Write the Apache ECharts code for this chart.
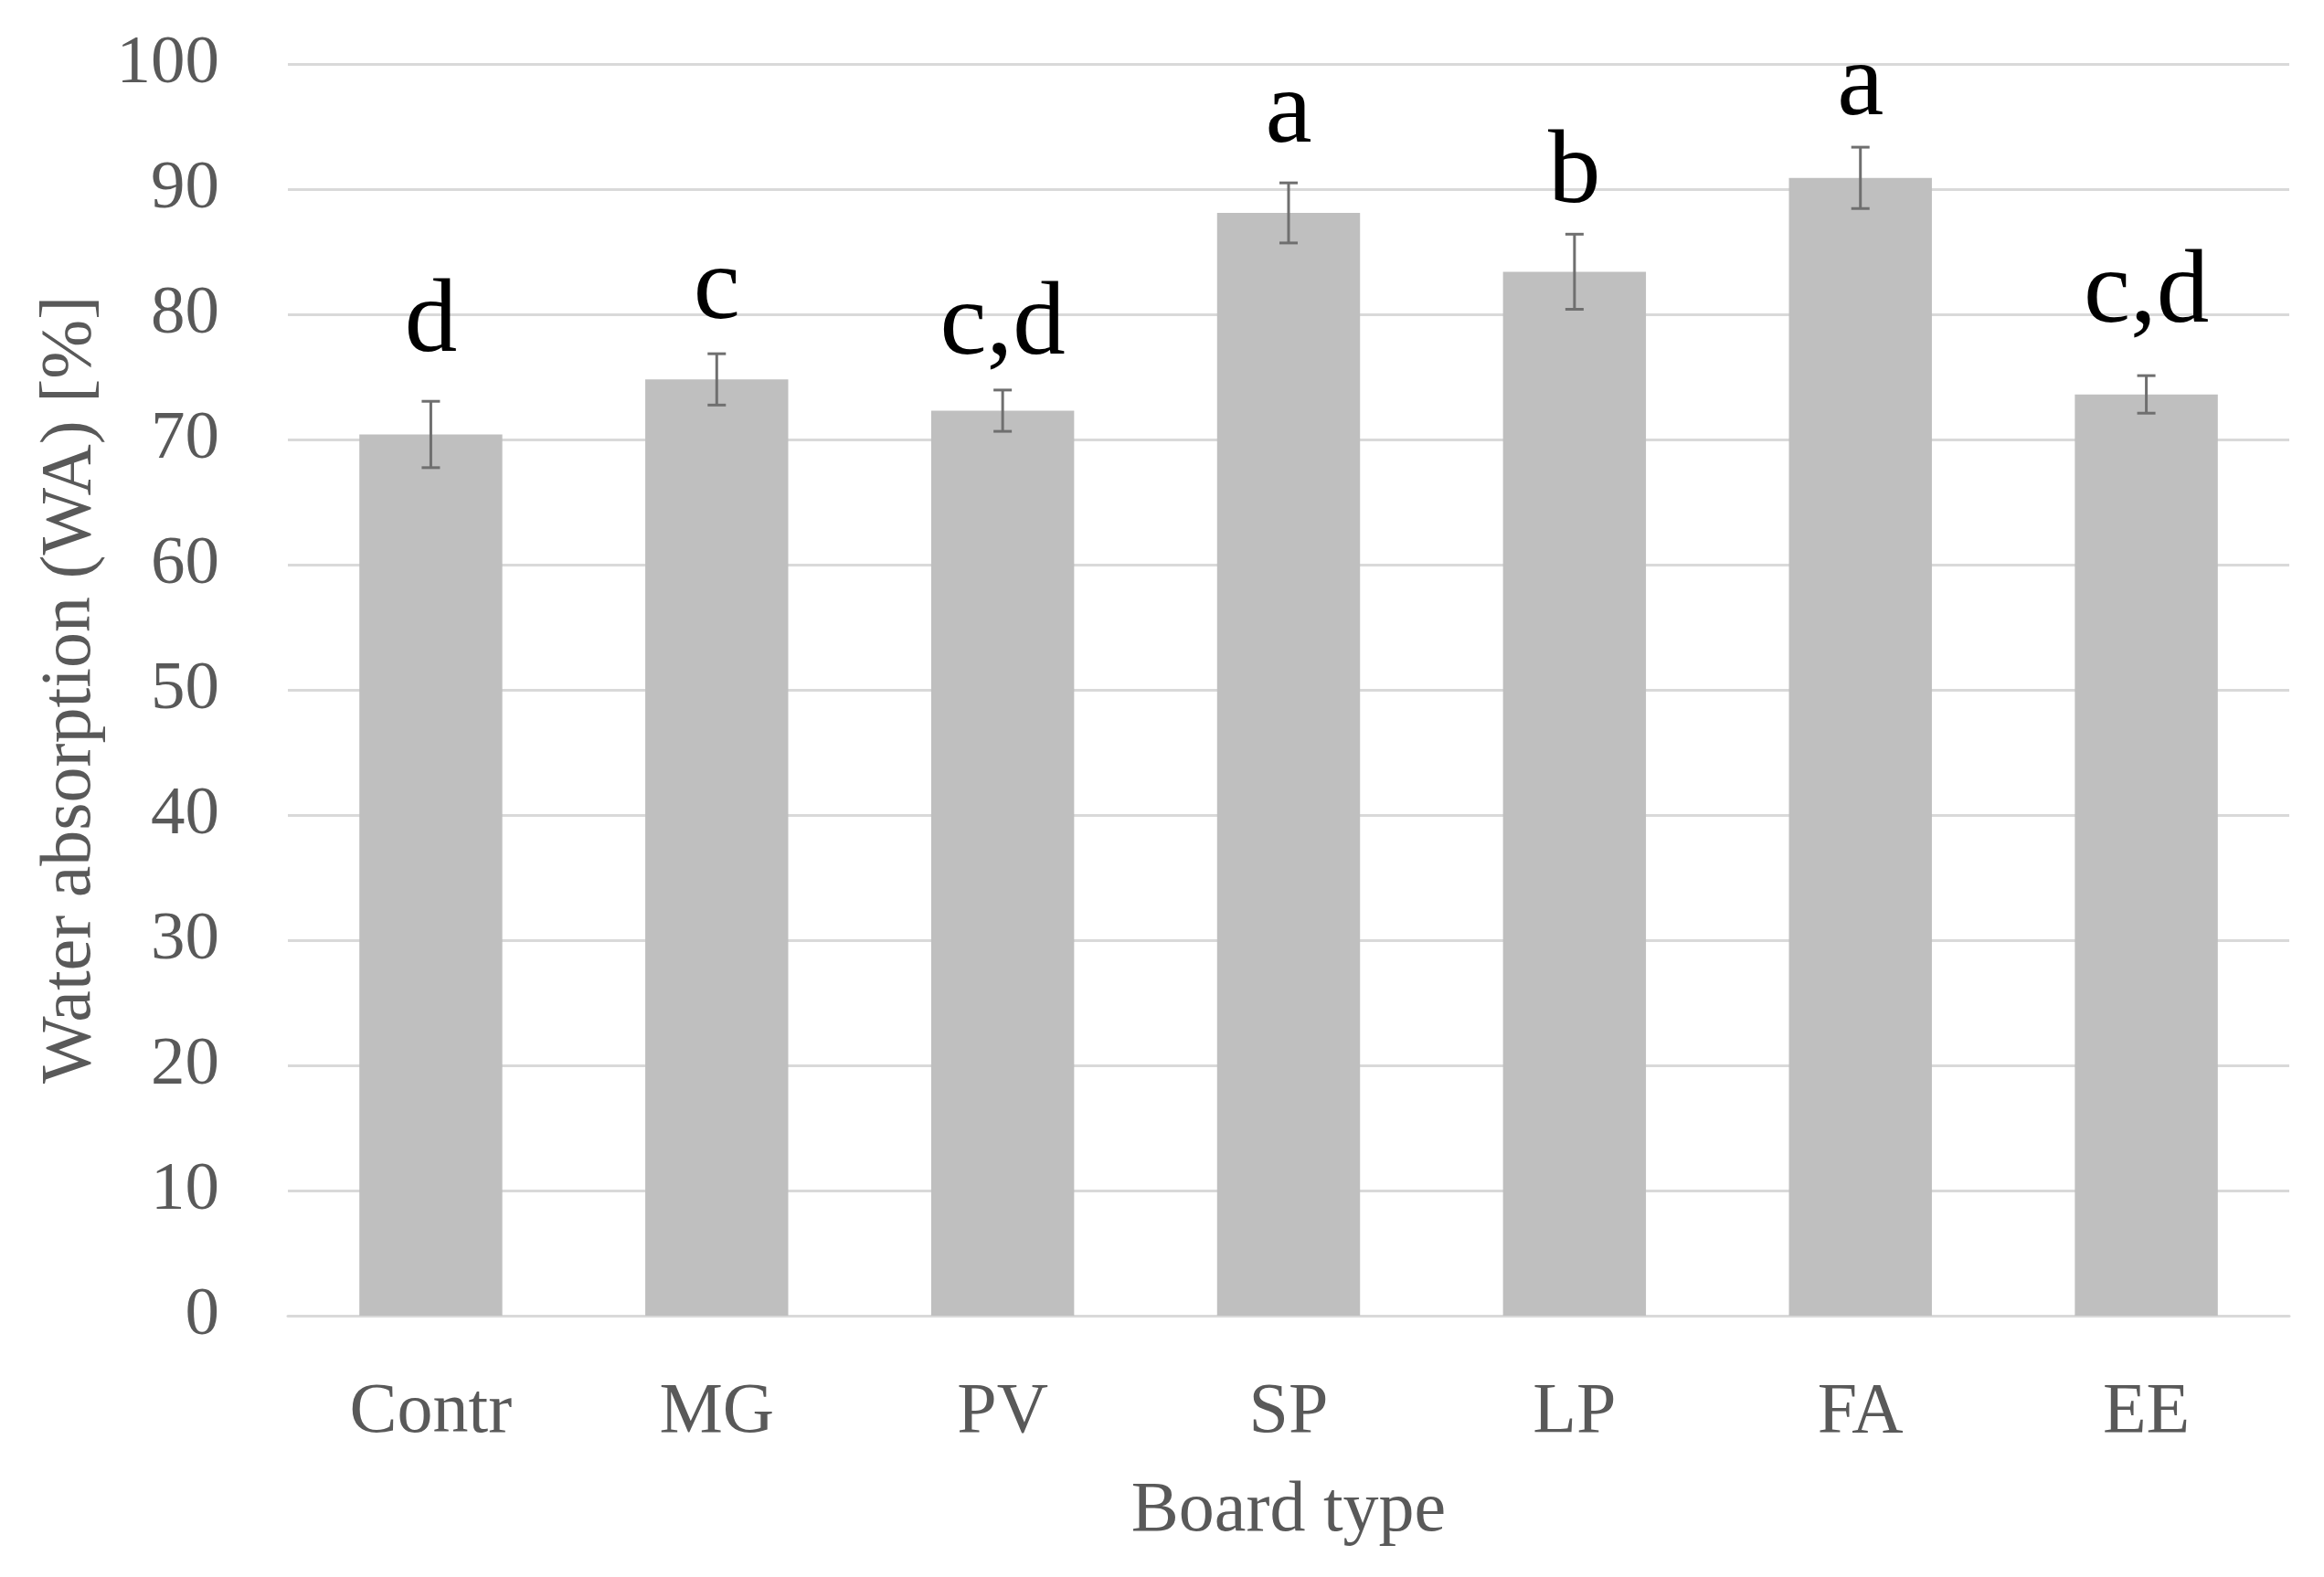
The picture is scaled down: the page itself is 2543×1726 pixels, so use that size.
<!DOCTYPE html>
<html>
<head>
<meta charset="utf-8">
<script src="https://cdn.jsdelivr.net/npm/echarts@6/dist/echarts.min.js"></script>
<style>
html,body{margin:0;padding:0;background:#fff;}
#c{width:2543px;height:1726px;}
</style>
</head>
<body>
<div id="c"></div>
<script>
const categories = ['Contr', 'MG', 'PV', 'SP', 'LP', 'FA', 'EE'];
const means = [70.4, 74.8, 72.3, 88.1, 83.4, 90.9, 73.6];
const sds = [2.65, 2.05, 1.65, 2.4, 3.0, 2.45, 1.5];
const letters = ['d', 'c', 'c,d', 'a', 'b', 'a', 'c,d'];
const letterY = [77.0, 79.6, 76.8, 93.7, 88.9, 95.9, 79.3];
const yTicks = [0, 10, 20, 30, 40, 50, 60, 70, 80, 90, 100];

const FONT = '"Liberation Serif", "DejaVu Serif", serif';
const chart = echarts.init(document.getElementById('c'), null, {renderer: 'canvas'});

const errData = categories.map((c, i) => [i, means[i] - sds[i], means[i] + sds[i]]);
const letterData = categories.map((c, i) => [i, letterY[i], letters[i]]);

chart.setOption({
  animation: false,
  backgroundColor: '#ffffff',
  grid: {left: 315, right: 38, top: 70, bottom: 286, containLabel: false},
  xAxis: {
    type: 'category',
    data: categories,
    axisLine: {show: true, lineStyle: {color: '#d9d9d9', width: 3}},
    axisTick: {show: false},
    axisLabel: {color: '#595959', fontFamily: FONT, fontSize: 78, margin: 68},
    name: 'Board type',
    nameLocation: 'middle',
    nameGap: 176,
    nameTextStyle: {color: '#595959', fontFamily: FONT, fontSize: 78}
  },
  yAxis: {
    type: 'value',
    min: yTicks[0],
    max: yTicks[yTicks.length - 1],
    interval: 10,
    axisLine: {show: false},
    axisTick: {show: false},
    splitLine: {show: true, lineStyle: {color: '#d9d9d9', width: 3}},
    axisLabel: {color: '#595959', fontFamily: FONT, fontSize: 75, margin: 75},
    name: 'Water absorption (WA) [%]',
    nameLocation: 'middle',
    nameGap: 190,
    nameRotate: 90,
    nameTextStyle: {color: '#595959', fontFamily: FONT, fontSize: 78}
  },
  series: [
    {
      type: 'bar',
      data: means,
      barWidth: '50%',
      itemStyle: {color: '#bfbfbf'},
      z: 2
    },
    {
      type: 'custom',
      data: errData,
      z: 5,
      renderItem: function (params, api) {
        const x = api.value(0);
        const lo = api.coord([x, api.value(1)]);
        const hi = api.coord([x, api.value(2)]);
        const hw = 10;
        const st = {stroke: '#6f6f6f', lineWidth: 3};
        return {
          type: 'group',
          children: [
            {type: 'line', shape: {x1: hi[0], y1: hi[1], x2: lo[0], y2: lo[1]}, style: st},
            {type: 'line', shape: {x1: hi[0] - hw, y1: hi[1], x2: hi[0] + hw, y2: hi[1]}, style: st},
            {type: 'line', shape: {x1: lo[0] - hw, y1: lo[1], x2: lo[0] + hw, y2: lo[1]}, style: st}
          ]
        };
      }
    },
    {
      type: 'custom',
      data: letterData,
      z: 6,
      renderItem: function (params, api) {
        const p = api.coord([api.value(0), api.value(1)]);
        return {
          type: 'text',
          x: p[0],
          y: p[1] + 26,
          style: {
            text: letters[params.dataIndex],
            fill: '#000000',
            font: '115px ' + FONT,
            align: 'center',
            verticalAlign: 'bottom'
          }
        };
      }
    }
  ]
});
</script>
</body>
</html>
